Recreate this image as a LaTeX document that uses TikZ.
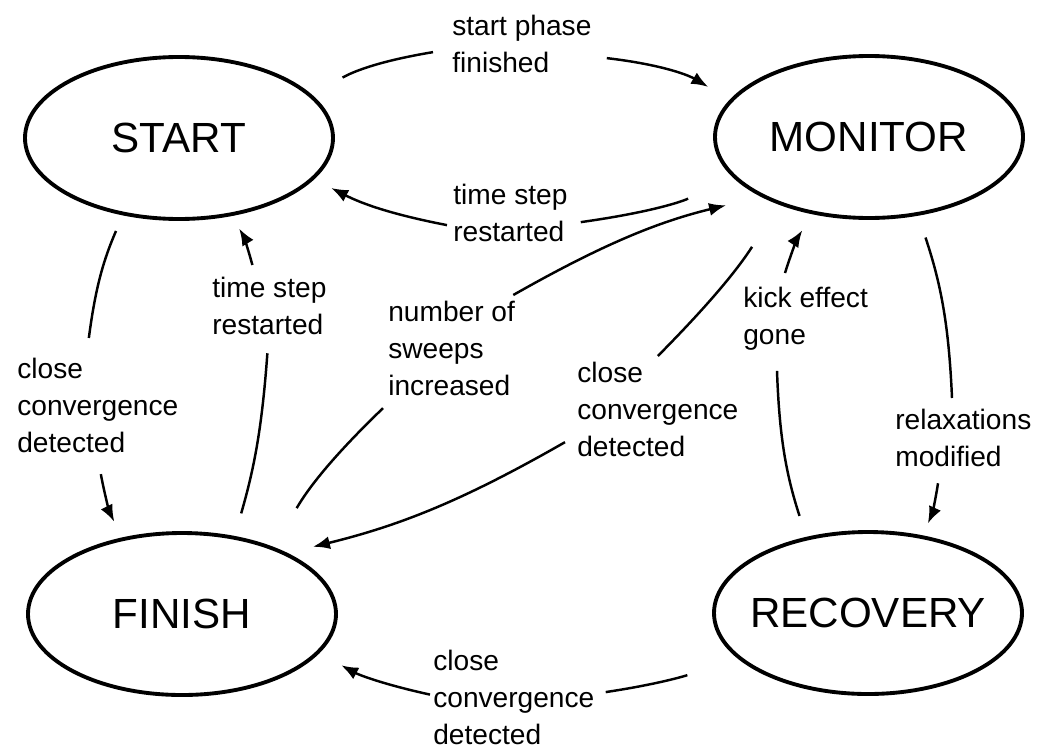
\documentclass[tikz,border=0pt]{standalone}
\usepackage{fontspec}
\setmainfont{Liberation Sans}
\usepackage{tikz}
\usetikzlibrary{arrows.meta, shapes.geometric}

\begin{document}
\begin{tikzpicture}[
  state/.style={draw, ellipse, line width=2.2pt, inner sep=0pt, minimum width=6.16cm, minimum height=3.24cm, font=\fontsize{24}{28}\selectfont},
  lbl/.style={anchor=north west, inner sep=0pt, align=left, font=\fontsize{16}{21}\selectfont},
  wire/.style={line width=1.4pt},
  arr/.style={wire, -{Latex[length=0.34cm,width=0.26cm]}}]
\useasboundingbox (-10.37, -7.5) rectangle (10.37, 7.5);
\node[state] (start) at (-6.79, 4.74) {START};
\node[state] (monitor) at (7.01, 4.76) {MONITOR};
\node[state] (finish) at (-6.73, -4.78) {FINISH};
\node[state, inner xsep=-0.3cm] (recovery) at (6.99, -4.76) {RECOVERY};
\node[lbl] (phase) at (-1.33, 7.2) {start phase\\finished};
\node[lbl] (restart) at (-1.31, 3.82) {time step\\restarted};
\node[lbl] (sweeps) at (-2.61, 1.48) {number of\\sweeps\\increased};
\node[lbl] (convM) at (1.17, 0.26) {close\\convergence\\detected};
\node[lbl] (kick) at (4.49, 1.76) {kick effect\\gone};
\node[lbl] (relax) at (7.53, -0.68) {relaxations\\modified};
\node[lbl] (convR) at (-1.71, -5.5) {close\\convergence\\detected};
\node[lbl] (convS) at (-10.03, 0.34) {close\\convergence\\detected};
\node[lbl] (restartF) at (-6.13, 1.96) {time step\\restarted};
\draw[wire, shorten <=0.7cm] (start.18) to[bend left=10] ([shift={(-0.38,-0.16)}]phase.west);
\draw[arr, shorten >=0.5cm] ([shift={(0.3,-0.28)}]phase.east) to[bend left=12] (monitor.165);
\draw[wire, shorten <=1.0cm] (monitor.197) to[bend left=8] ([shift={(0.26,-0.18)}]restart.east);
\draw[arr, shorten >=0.38cm] ([shift={(-0.12,-0.24)}]restart.west) to[bend left=8] (start.-17);
\draw[wire, shorten <=0.9cm] (finish.36) to[bend left=8] ([shift={(-0.1,-0.24)}]sweeps.south west);
\draw[arr, shorten >=0.72cm] ([shift={(-0.04,0.12)}]sweeps.north east) to[bend left=8] (monitor.209);
\draw[wire, shorten <=1.0cm] (monitor.217) to[bend left=6] ([shift={(0,0.12)}]convM.north);
\draw[arr, shorten >=0.52cm] ([shift={(-0.24,0.3)}]convM.south west) to[bend left=8] (finish.30);
\draw[wire, shorten <=0.44cm] (recovery.129) to[bend left=8] ([shift={(0.68,-0.4)}]kick.south west);
\draw[arr, shorten >=0.38cm] ([shift={(0.84,0.28)}]kick.north west) to[bend left=8] (monitor.234);
\draw[wire, shorten <=0.46cm] (monitor.-58) to[bend left=8] ([shift={(1.14,0.22)}]relax.north west);
\draw[arr, shorten >=0.26cm] ([shift={(0.86,-0.32)}]relax.south west) to[bend left=8] (recovery.55);
\draw[wire, shorten <=1.0cm] (recovery.197) to[bend left=8] ([shift={(0.22,0.11)}]convR.east);
\draw[arr, shorten >=0.5cm] ([shift={(-0.06,0.06)}]convR.west) to[bend left=8] (finish.-16);
\draw[wire, shorten <=0.34cm] (start.234) to[bend right=8] ([shift={(-0.18,0.4)}]convS.north);
\draw[arr, shorten >=0.35cm] ([shift={(0.06,-0.42)}]convS.south) to[bend right=8] (finish.128);
\draw[wire, shorten <=0.47cm] (finish.56) to[bend right=6] ([shift={(-0.04,-0.36)}]restartF.south);
\draw[arr, shorten >=0.29cm] ([shift={(-0.34,0.24)}]restartF.north) to[bend right=8] (start.-56);
\end{tikzpicture}
\end{document}
